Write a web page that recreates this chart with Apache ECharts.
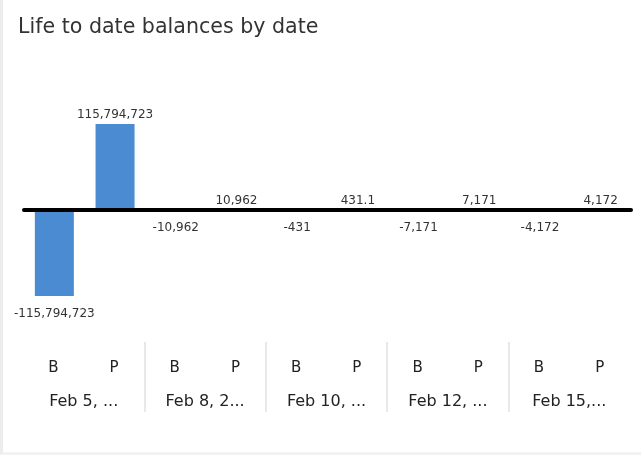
<!DOCTYPE html>
<html>
<head>
<meta charset="utf-8">
<script src="https://cdn.jsdelivr.net/npm/echarts@6/dist/echarts.min.js"></script>
<style>
html,body{margin:0;padding:0;background:#fff;}
#wrap{position:absolute;left:0;top:0;width:641px;height:455px;box-sizing:border-box;border-left:3px solid #ececec;border-bottom:3px solid #f2f2f2;}
#chart{position:absolute;left:0;top:0;width:641px;height:455px;}
</style>
</head>
<body>
<div id="wrap"></div>
<div id="chart"></div>
<script>
const title = 'Life to date balances by date';
const categories = ['B', 'P', 'B', 'P', 'B', 'P', 'B', 'P', 'B', 'P'];
const dateLabels = ['Feb 5, ...', 'Feb 8, 2...', 'Feb 10, ...', 'Feb 12, ...', 'Feb 15,...'];
const values = [-115794723, 115794723, -10962, 10962, -431, 431.1, -7171, 7171, -4172, 4172];
const valueLabels = ['-115,794,723', '115,794,723', '-10,962', '10,962', '-431', '431.1', '-7,171', '7,171', '-4,172', '4,172'];

const font = "'DejaVu Sans', sans-serif";
const chart = echarts.init(document.getElementById('chart'));
chart.setOption({
  animation: false,
  title: {
    text: title, left: 13, top: 12,
    textStyle: {fontFamily: font, fontSize: 20.6, fontWeight: 'normal', color: '#333'}
  },
  grid: [
    {left: 24, right: 10, top: 80, height: 260},
    {left: 23, right: 11, top: 342, height: 70}
  ],
  xAxis: [
    {type: 'category', gridIndex: 0, data: categories,
     axisLine: {onZero: true, lineStyle: {color: '#000', width: 4}},
     axisTick: {show: false}, axisLabel: {show: false}, z: 5},
    {type: 'category', gridIndex: 1, data: categories, position: 'top',
     axisLine: {show: false}, axisTick: {show: false},
     axisLabel: {inside: true, margin: 18.5, fontFamily: font, fontSize: 15, color: '#222'}},
    {type: 'category', gridIndex: 1, data: dateLabels, position: 'bottom',
     axisLine: {show: false}, axisTick: {show: false},
     splitLine: {show: true, showMinLine: false, showMaxLine: false, lineStyle: {color: '#e0e0e0', width: 1.5}},
     axisLabel: {inside: true, margin: 2, fontFamily: font, fontSize: 16, color: '#222'}}
  ],
  yAxis: [
    {type: 'value', gridIndex: 0, min: -175000000, max: 175000000, show: false, splitLine: {show: false}},
    {type: 'value', gridIndex: 1, show: false}
  ],
  series: [{
    type: 'bar', xAxisIndex: 0, yAxisIndex: 0, barWidth: 39,
    itemStyle: {color: '#4a8bd1'},
    data: values.map((v, i) => ({
      value: v,
      label: {
        show: true,
        position: v < 0 ? 'bottom' : 'top',
        distance: v < 0 ? 12 : 3,
        formatter: valueLabels[i],
        fontFamily: font, fontSize: 12, color: '#333'
      }
    }))
  }]
});
</script>
</body>
</html>
